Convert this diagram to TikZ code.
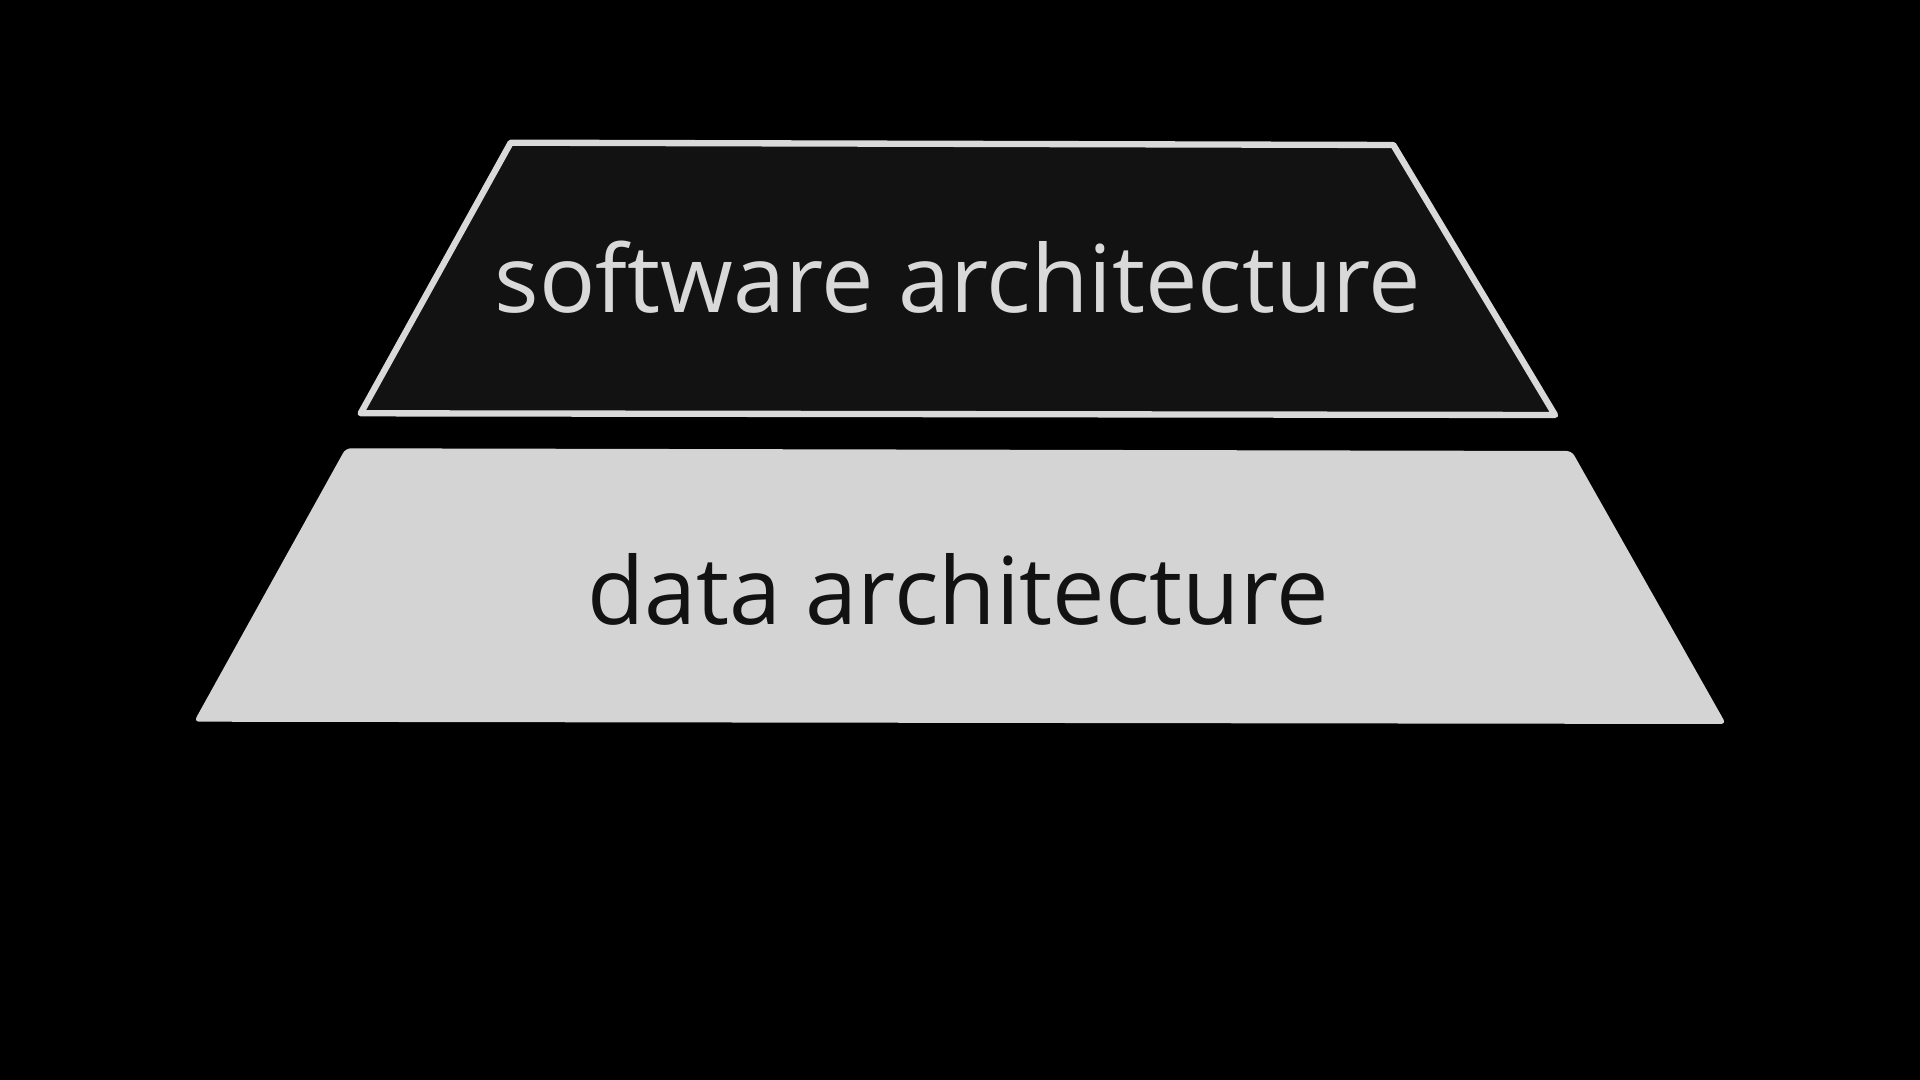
\documentclass[tikz,border=0pt]{standalone}
\usepackage{fontspec}
\setmainfont{Open Sans}
\usepackage{tikz}
\definecolor{layerdark}{HTML}{121212}
\definecolor{layerlight}{HTML}{D4D4D4}
\definecolor{layerline}{HTML}{D9D9D9}

\begin{document}
\begin{tikzpicture}[
  every node/.style={font=\fontsize{26.6}{30}\selectfont},
  toplayer/.style={draw=layerline,fill=layerdark,line width=1.8pt,line join=round},
  baselayer/.style={fill=layerlight,rounded corners=1.5pt},
  label/.style={anchor=base,inner sep=0pt},
]

% Background
\fill[black] (0,0) rectangle (19.2,10.8);

% Software layer
\draw[toplayer] (5.107,9.373) -- (13.933,9.35) -- (15.55,6.65) -- (3.607,6.667) -- cycle;
\node[label,text=layerline] (sw) at (9.58,7.67) {software architecture};

% Data layer
\fill[baselayer] (3.457,6.317) -- (15.717,6.29) -- (17.26,3.56) -- (1.94,3.583) -- cycle;
\node[label,text=layerdark] (data) at (9.58,4.555) {data architecture};

\end{tikzpicture}
\end{document}
